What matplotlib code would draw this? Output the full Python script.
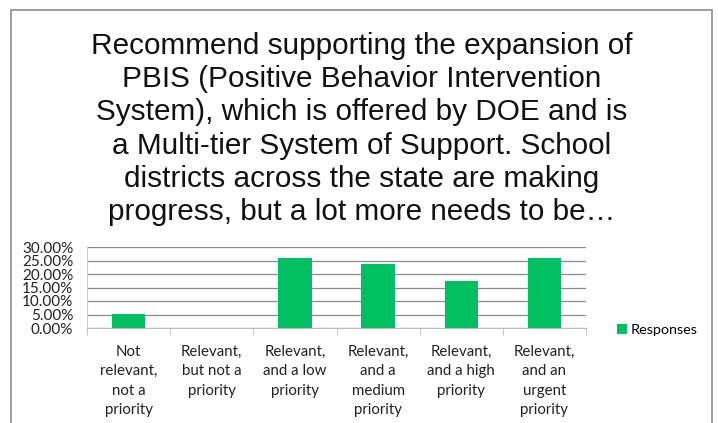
import matplotlib.pyplot as plt
from matplotlib.patches import Rectangle
from matplotlib.ticker import FuncFormatter, FixedLocator

categories = [
    "Not\nrelevant,\nnot a\npriority",
    "Relevant,\nbut not a\npriority",
    "Relevant,\nand a low\npriority",
    "Relevant,\nand a\nmedium\npriority",
    "Relevant,\nand a high\npriority",
    "Relevant,\nand an\nurgent\npriority",
]
responses = [5.3, 0.0, 25.8, 23.6, 17.4, 25.8]  # percent
y_ticks = [0, 5, 10, 15, 20, 25, 30]

title = ("Recommend supporting the expansion of\n"
         "PBIS (Positive Behavior Intervention\n"
         "System), which is offered by DOE and is\n"
         "a Multi-tier System of Support. School\n"
         "districts across the state are making\n"
         "progress, but a lot more needs to be\u2026")

fig = plt.figure(figsize=(7.18, 4.23), dpi=100)
fig.patch.set_facecolor('white')

# outer chart frame (open at the bottom edge)
fig.patches.append(Rectangle((11 / 718, -0.05), (712 - 11) / 718, 1.05 - 10 / 423,
                             transform=fig.transFigure, fill=False,
                             edgecolor='#8c8c8c', linewidth=1.2))

fig.text(362 / 718, 1 - 129 / 423, title, ha='center', va='center',
         fontsize=21.4, family='Liberation Sans', linespacing=1.23,
         color='#111111')

ax = fig.add_axes([87 / 718, 1 - 328 / 423, (586 - 87) / 718, (328 - 247) / 423])
x = list(range(len(categories)))
bars = ax.bar(x, responses, width=0.4, color='#00BF63', label='Responses', zorder=3)

ax.set_xlim(-0.5, len(categories) - 0.5)
ax.set_ylim(0, 30)
ax.set_yticks(y_ticks)
ax.yaxis.set_major_formatter(FuncFormatter(lambda v, p: f"{v:.2f}%"))
ax.yaxis.grid(True, color='#8a8a8a', linewidth=0.9, zorder=0)
ax.tick_params(axis='y', length=0, pad=10, labelsize=11, labelcolor='#222222')
for lab in ax.get_yticklabels():
    lab.set_family('Lato')

ax.set_xticks(x)
ax.set_xticklabels(categories, family='Lato', fontsize=10.8, color='#222222',
                   linespacing=1.5, va='top')
ax.tick_params(axis='x', which='major', length=0, pad=12)
ax.xaxis.set_minor_locator(FixedLocator([i - 0.5 for i in range(len(categories) + 1)]))
ax.tick_params(axis='x', which='minor', length=5, color='#bbbbbb', direction='out')

for side in ['top', 'right']:
    ax.spines[side].set_visible(False)
ax.spines['left'].set_color('#cccccc')
ax.spines['bottom'].set_color('#bbbbbb')

leg = fig.legend(handles=[bars], labels=['Responses'], loc='center left',
                 bbox_to_anchor=(604 / 718, 1 - 330 / 423), frameon=False,
                 handlelength=0.7, handleheight=0.7, handletextpad=0.25,
                 prop={'family': 'Lato', 'size': 10.4})

fig.savefig('out.png', dpi=100)
